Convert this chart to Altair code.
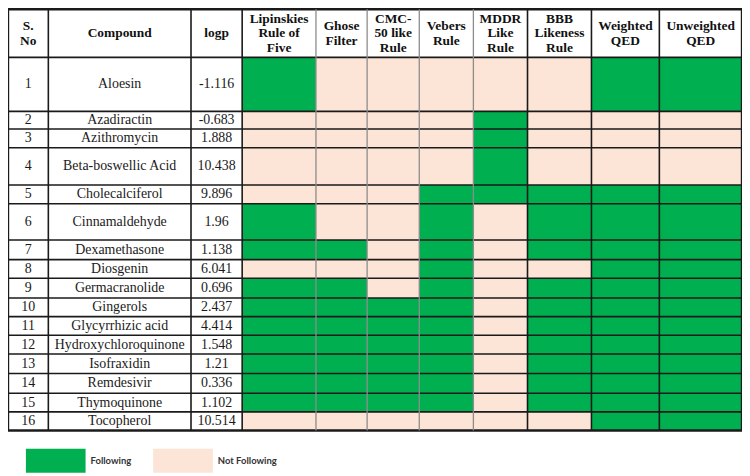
import altair as alt
import pandas as pd

# ---------------- data ----------------
sno = [str(i) for i in range(1, 17)]
compounds = ["Aloesin", "Azadiractin", "Azithromycin", "Beta-boswellic Acid",
             "Cholecalciferol", "Cinnamaldehyde", "Dexamethasone", "Diosgenin",
             "Germacranolide", "Gingerols", "Glycyrrhizic acid", "Hydroxychloroquinone",
             "Isofraxidin", "Remdesivir", "Thymoquinone", "Tocopherol"]
logp = ["-1.116", "-0.683", "1.888", "10.438", "9.896", "1.96", "1.138", "6.041",
        "0.696", "2.437", "4.414", "1.548", "1.21", "0.336", "1.102", "10.514"]
header_labels = [["S.", "No"], ["Compound"], ["logp"], ["Lipinskies", "Rule of", "Five"],
                 ["Ghose", "Filter"], ["CMC-", "50 like", "Rule"], ["Vebers", "Rule"],
                 ["MDDR", "Like", "Rule"], ["BBB", "Likeness", "Rule"],
                 ["Weighted", "QED"], ["Unweighted", "QED"]]
rule_names = ["Lipinskies Rule of Five", "Ghose Filter", "CMC-50 like Rule", "Vebers Rule",
              "MDDR Like Rule", "BBB Likeness Rule", "Weighted QED", "Unweighted QED"]
# 1 = Following, 0 = Not Following (rows in compound order)
lipinski   = [1, 0, 0, 0, 0, 1, 1, 0, 1, 1, 1, 1, 1, 1, 1, 0]
ghose      = [0, 0, 0, 0, 0, 0, 1, 0, 1, 1, 1, 1, 1, 1, 1, 0]
cmc50      = [0, 0, 0, 0, 0, 0, 0, 0, 0, 1, 1, 1, 1, 1, 1, 0]
vebers     = [0, 0, 0, 0, 1, 1, 1, 1, 1, 1, 1, 1, 1, 1, 1, 0]
mddr       = [0, 1, 1, 1, 1, 0, 0, 0, 0, 0, 0, 0, 0, 0, 0, 0]
bbb        = [0, 0, 0, 0, 1, 1, 1, 0, 1, 1, 1, 1, 1, 1, 1, 0]
weighted   = [1, 0, 0, 0, 1, 1, 1, 1, 1, 1, 1, 1, 1, 1, 1, 1]
unweighted = [1, 0, 0, 0, 1, 1, 1, 1, 1, 1, 1, 1, 1, 1, 1, 1]
rule_values = [lipinski, ghose, cmc50, vebers, mddr, bbb, weighted, unweighted]
status_labels = ["Following", "Not Following"]

# ---------------- layout / style ----------------
status_colors = ["#00B050", "#FCE4D6"]
col_edges = [2, 43, 188, 240, 315, 367, 420, 475, 530, 595, 664, 748]
row_edges = [2, 51, 106, 124, 143, 181, 200, 237, 257, 276, 296, 315, 334, 353,
             373, 393, 412, 431]
vline_colors = ["#1a1a1a", "#1a1a1a", "#1a1a1a", "#1a1a1a", "#8c8c8c", "#8c8c8c",
                "#8c8c8c", "#8c8c8c", "#1a1a1a", "#1a1a1a", "#1a1a1a", "#1a1a1a"]
header_line_h = 15.0
X0, X1, Y0, Y1 = 2, 748, 2, 474
W, H = 738, 466

xs = alt.Scale(domain=[X0, X1], nice=False, zero=False)
ys = alt.Scale(domain=[Y0, Y1], nice=False, zero=False, reverse=True)

# rule cells
cells = []
for r in range(len(compounds)):
    for c, vals in enumerate(rule_values):
        cells.append(dict(x=col_edges[3 + c], x2=col_edges[4 + c],
                          y=row_edges[r + 1], y2=row_edges[r + 2],
                          status=status_labels[0] if vals[r] else status_labels[1],
                          rule=rule_names[c], compound=compounds[r]))
cell_df = pd.DataFrame(cells)

# body text
body = []
for r in range(len(compounds)):
    yc = (row_edges[r + 1] + row_edges[r + 2]) / 2
    for c, txt in enumerate([sno[r], compounds[r], logp[r]]):
        body.append(dict(x=(col_edges[c] + col_edges[c + 1]) / 2, y=yc, t=txt))
body_df = pd.DataFrame(body)

# header text (one datum per line, block centred in the header cell)
head = []
hc = (row_edges[0] + row_edges[1]) / 2
for c, lines in enumerate(header_labels):
    n = len(lines)
    for i, txt in enumerate(lines):
        head.append(dict(x=(col_edges[c] + col_edges[c + 1]) / 2,
                         y=hc + (i - (n - 1) / 2) * header_line_h, t=txt))
head_df = pd.DataFrame(head)

# grid lines
vlines = pd.DataFrame([dict(x=e, y=row_edges[0], y2=row_edges[-1], col=vline_colors[i],
                            w=2.4 if i in (0, len(col_edges) - 1) else (1.6 if vline_colors[i] == "#1a1a1a" else 1.3))
                       for i, e in enumerate(col_edges)])
hlines = pd.DataFrame([dict(y=e, x=col_edges[0], x2=col_edges[-1],
                            w=2.4 if i in (0, len(row_edges) - 1) else 1.6)
                       for i, e in enumerate(row_edges)])

white = alt.Chart(pd.DataFrame([dict(x=col_edges[0], x2=col_edges[3], y=row_edges[0], y2=row_edges[-1]),
                                dict(x=col_edges[3], x2=col_edges[-1], y=row_edges[0], y2=row_edges[1])])
                  ).mark_rect(fill="white").encode(
    x=alt.X("x:Q", scale=xs, axis=None), x2="x2",
    y=alt.Y("y:Q", scale=ys, axis=None), y2="y2")

rects = alt.Chart(cell_df).mark_rect(strokeWidth=0).encode(
    x=alt.X("x:Q", scale=xs, axis=None), x2="x2",
    y=alt.Y("y:Q", scale=ys, axis=None), y2="y2",
    color=alt.Color("status:N",
                    scale=alt.Scale(domain=status_labels, range=status_colors),
                    legend=alt.Legend(orient="none", legendX=18, legendY=424,
                                      direction="horizontal", title=None,
                                      symbolType="M-1,-0.4H1V0.4H-1Z", symbolSize=3600,
                                      symbolStrokeWidth=0, symbolOpacity=1,
                                      labelFont="Lato", labelFontSize=9.5,
                                      labelFontWeight="bold", labelColor="#333333",
                                      labelOffset=5, columnPadding=22, padding=0)),
    tooltip=["compound:N", "rule:N", "status:N"])

vl = alt.Chart(vlines).mark_rule().encode(
    x=alt.X("x:Q", scale=xs, axis=None),
    y=alt.Y("y:Q", scale=ys, axis=None), y2="y2",
    stroke=alt.Stroke("col:N", scale=None),
    strokeWidth=alt.StrokeWidth("w:Q", scale=None))

hl = alt.Chart(hlines).mark_rule(color="#1a1a1a").encode(
    y=alt.Y("y:Q", scale=ys, axis=None),
    x=alt.X("x:Q", scale=xs, axis=None), x2="x2",
    strokeWidth=alt.StrokeWidth("w:Q", scale=None))

body_txt = alt.Chart(body_df).mark_text(font="Liberation Serif", fontSize=14,
                                        color="#1a1a1a", baseline="middle", align="center").encode(
    x=alt.X("x:Q", scale=xs, axis=None), y=alt.Y("y:Q", scale=ys, axis=None), text="t:N")

head_txt = alt.Chart(head_df).mark_text(font="Liberation Serif", fontSize=13.5, fontWeight="bold",
                                        color="#111111", baseline="middle", align="center").encode(
    x=alt.X("x:Q", scale=xs, axis=None), y=alt.Y("y:Q", scale=ys, axis=None), text="t:N")

chart = alt.layer(white, rects, hl, vl, body_txt, head_txt).properties(
    width=W, height=H, padding=0, autosize="none", background="white"
).configure_view(stroke=None)

chart.save("out.html", embed_options={"renderer": "svg", "actions": False})
